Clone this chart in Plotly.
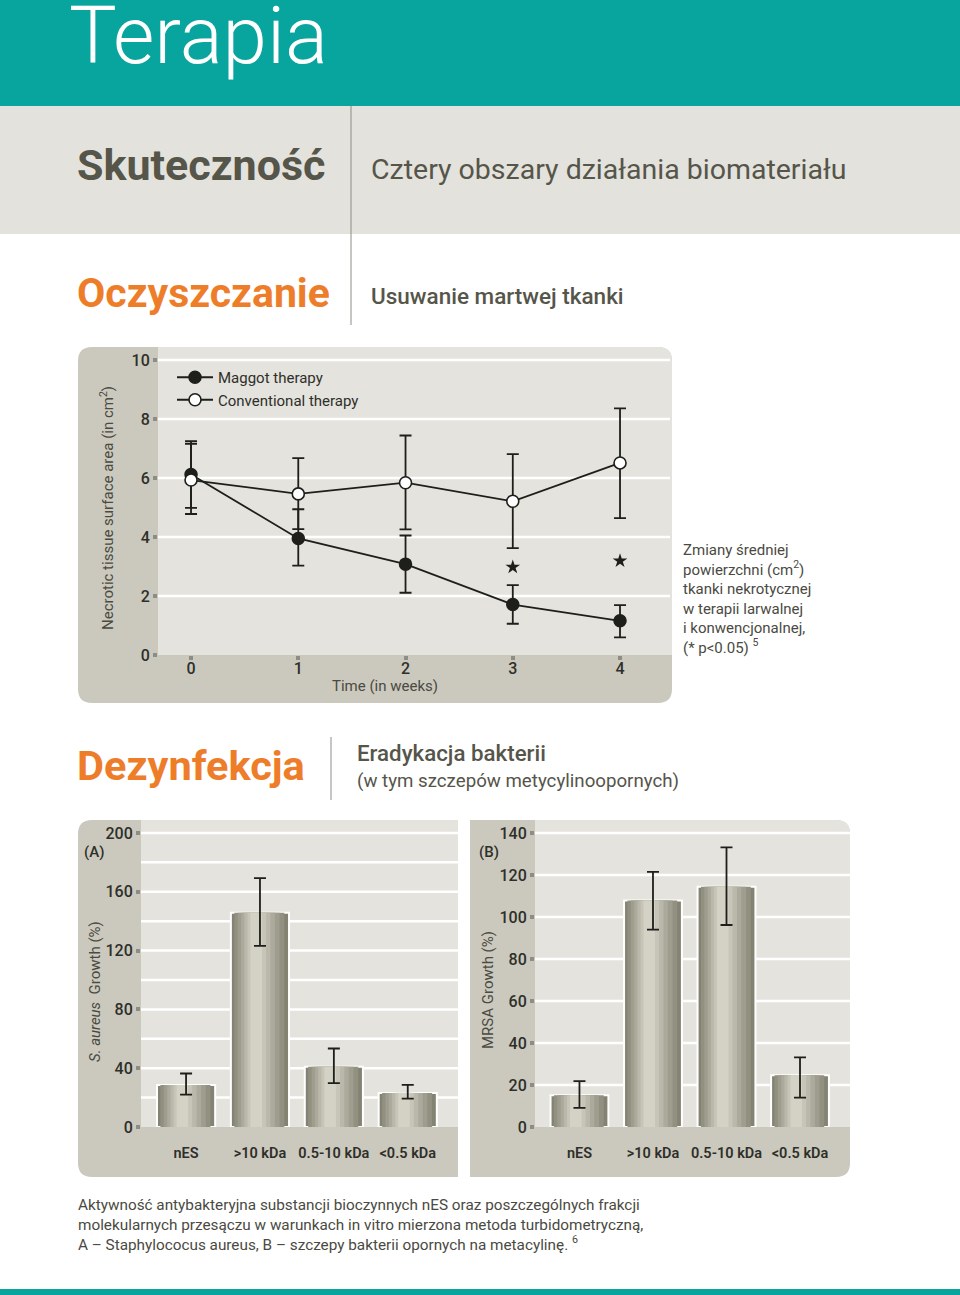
import plotly.graph_objects as go

# ---------------- data ----------------
weeks = [0, 1, 2, 3, 4]
maggot = [6.12, 3.95, 3.08, 1.71, 1.16]
maggot_hi = [7.25, 4.94, 4.05, 2.37, 1.69]
maggot_lo = [4.99, 3.03, 2.11, 1.06, 0.60]
conv = [5.93, 5.46, 5.84, 5.21, 6.51]
conv_hi = [7.16, 6.67, 7.44, 6.81, 8.36]
conv_lo = [4.78, 4.27, 4.26, 3.62, 4.64]
star_weeks = [3, 4]
star_vals = [2.98, 3.19]
line_yticks = [0, 2, 4, 6, 8, 10]

cats = ["nES", ">10 kDa", "0.5-10 kDa", "<0.5 kDa"]
cat_labels = ["nES", "&gt;10 kDa", "0.5-10 kDa", "&lt;0.5 kDa"]
a_vals = [28.6, 145.7, 40.9, 23.2]
a_hi = [36.4, 169.3, 53.4, 28.6]
a_lo = [22.0, 123.2, 29.8, 19.3]
b_vals = [15.1, 107.9, 114.4, 24.7]
b_hi = [21.8, 121.5, 133.2, 33.2]
b_lo = [9.1, 94.0, 96.2, 14.0]
a_yticks = [0, 40, 80, 120, 160, 200]
a_grid = [20, 40, 60, 80, 100, 120, 140, 160, 180, 200]
b_yticks = [0, 20, 40, 60, 80, 100, 120, 140]
b_grid = [20, 40, 60, 80, 100, 120, 140]

# ---------------- styling ----------------
W, H = 960, 1295          # reference frame (pixels)
FIG_H = 1305              # rendered figure height (viewport is captured slightly taller)
FONT = "Roboto"
TEAL = "#07a59e"
BAND = "#e3e2dc"
DARKTXT = "#56554a"
ORANGE = "#ee7d2a"
PANEL = "#cbc9bd"
LIGHT = "#e4e3dd"
INK = "#1e1e1b"
TICKTXT = "#2f2f2a"
DOT = "#8e8d84"
SUBTXT = "#4a4a42"


def px(x):
    return x / W


def py(y):
    return 1 - y / H


def rrect(x0, y0, x1, y1, tl=0, tr=0, br=0, bl=0):
    def P(x, y):
        return f"{px(x):.5f},{py(y):.5f}"
    d = f"M{P(x0 + tl, y0)} L{P(x1 - tr, y0)} "
    d += f"Q{P(x1, y0)} {P(x1, y0 + tr)} " if tr else ""
    d += f"L{P(x1, y1 - br)} "
    d += f"Q{P(x1, y1)} {P(x1 - br, y1)} " if br else ""
    d += f"L{P(x0 + bl, y1)} "
    d += f"Q{P(x0, y1)} {P(x0, y1 - bl)} " if bl else ""
    d += f"L{P(x0, y0 + tl)} "
    d += f"Q{P(x0, y0)} {P(x0 + tl, y0)} " if tl else ""
    return d + "Z"


shapes = []


def add_rect(x0, y0, x1, y1, color):
    shapes.append(dict(type="rect", xref="paper", yref="paper",
                       x0=px(x0), x1=px(x1), y0=py(y1), y1=py(y0),
                       fillcolor=color, line=dict(width=0), layer="below"))


def add_path(d, color):
    shapes.append(dict(type="path", xref="paper", yref="paper", path=d,
                       fillcolor=color, line=dict(width=0), layer="below"))


def add_vline(x, y0, y1, color="#8d8c84", width=1):
    shapes.append(dict(type="line", xref="paper", yref="paper",
                       x0=px(x), x1=px(x), y0=py(y0), y1=py(y1),
                       line=dict(color=color, width=width), layer="below"))


add_rect(0, 0, W, 106, TEAL)
add_rect(0, 106, W, 234, BAND)
add_vline(351, 106, 325)
add_vline(331, 737, 800)
add_rect(0, 1289, W, 1295, TEAL)

# line chart panel
add_path(rrect(78, 347, 672, 703, 14, 14, 14, 14), PANEL)
add_path(rrect(158, 347, 672, 655, 0, 14, 0, 0), LIGHT)
# bar panels
add_path(rrect(78, 820, 458, 1177, 14, 0, 0, 14), PANEL)
add_path(rrect(141, 820, 458, 1127, 0, 0, 0, 0), LIGHT)
add_path(rrect(470, 820, 850, 1177, 0, 14, 14, 0), PANEL)
add_path(rrect(535, 820, 850, 1127, 0, 14, 0, 0), LIGHT)

# gridlines
for v in line_yticks[1:]:
    shapes.append(dict(type="line", xref="x domain", yref="y", x0=0, x1=1, y0=v, y1=v,
                       line=dict(color="white", width=2.5), layer="below"))
for v in a_grid:
    shapes.append(dict(type="line", xref="x2 domain", yref="y2", x0=0, x1=1, y0=v, y1=v,
                       line=dict(color="white", width=2.5), layer="below"))
for v in b_grid:
    shapes.append(dict(type="line", xref="x3 domain", yref="y3", x0=0, x1=1, y0=v, y1=v,
                       line=dict(color="white", width=2.5), layer="below"))

fig = go.Figure()

# ---------------- line chart ----------------
fig.add_trace(go.Scatter(
    x=weeks, y=maggot, name="Maggot therapy", mode="lines+markers",
    line=dict(color=INK, width=1.8),
    marker=dict(size=12, color=INK, line=dict(color=INK, width=1.5)),
    error_y=dict(type="data", symmetric=False,
                 array=[h - v for h, v in zip(maggot_hi, maggot)],
                 arrayminus=[v - l for l, v in zip(maggot_lo, maggot)],
                 color=INK, thickness=1.8, width=6),
    xaxis="x", yaxis="y"))
fig.add_trace(go.Scatter(
    x=weeks, y=conv, name="Conventional therapy", mode="lines+markers",
    line=dict(color=INK, width=1.8),
    marker=dict(size=12, color="white", line=dict(color=INK, width=1.6)),
    error_y=dict(type="data", symmetric=False,
                 array=[h - v for h, v in zip(conv_hi, conv)],
                 arrayminus=[v - l for l, v in zip(conv_lo, conv)],
                 color=INK, thickness=1.8, width=6),
    xaxis="x", yaxis="y"))
fig.add_trace(go.Scatter(
    x=star_weeks, y=star_vals, mode="markers", showlegend=False,
    marker=dict(symbol="star", size=11, color=INK),
    xaxis="x", yaxis="y"))

# ---------------- bar charts (layered for cylinder shading) ----------------
BW = 0.787
dark = (0x84, 0x83, 0x73)
light = (0xd3, 0xd2, 0xc5)
fracs = [1.0, 0.86, 0.72, 0.58, 0.45, 0.32, 0.2]


def mix(t):
    return "rgb(%d,%d,%d)" % tuple(round(d + (l - d) * t) for d, l in zip(dark, light))


for vals, hi, lo, xa, ya in [(a_vals, a_hi, a_lo, "x2", "y2"), (b_vals, b_hi, b_lo, "x3", "y3")]:
    n = len(fracs)
    for i, f in enumerate(fracs):
        w = BW * f
        off = -BW / 2 + (BW - w) * 0.42
        fig.add_trace(go.Bar(
            x=cats, y=vals, width=w, offset=off, showlegend=False,
            marker=dict(color=mix(i / (n - 1)),
                        line=dict(color="white", width=2 if i == 0 else 0)),
            xaxis=xa, yaxis=ya, hoverinfo="skip"))
    fig.add_trace(go.Scatter(
        x=cats, y=vals, mode="markers", showlegend=False,
        marker=dict(size=1, color="rgba(0,0,0,0)"),
        error_y=dict(type="data", symmetric=False,
                     array=[h - v for h, v in zip(hi, vals)],
                     arrayminus=[v - l for l, v in zip(lo, vals)],
                     color=INK, thickness=1.8, width=6),
        xaxis=xa, yaxis=ya))

tickfont = dict(family=FONT, size=16, color=TICKTXT, weight=500)
cattickfont = dict(family=FONT, size=14.5, color=TICKTXT, weight=600)

axis_common = dict(showline=False, zeroline=False, showgrid=False,
                   ticks="outside", ticklen=4, tickwidth=4, tickcolor=DOT,
                   tickfont=tickfont, fixedrange=True)
cat_common = dict(showline=False, zeroline=False, showgrid=False, ticks="",
                  tickfont=cattickfont, fixedrange=True, ticklabelstandoff=15,
                  type="category", categoryorder="array", categoryarray=cats,
                  tickvals=cats, ticktext=cat_labels)

fig.update_layout(
    width=W, height=FIG_H, margin=dict(l=0, r=0, t=0, b=0),
    paper_bgcolor="white", plot_bgcolor="rgba(0,0,0,0)",
    barmode="overlay", shapes=shapes,
    font=dict(family=FONT, color=DARKTXT),
    xaxis=dict(domain=[px(158), px(670)], range=[-0.308, 4.466],
               tickvals=weeks, anchor="y", ticklabelstandoff=-5, **axis_common),
    yaxis=dict(domain=[py(655), py(347)], range=[0, 10.44],
               tickvals=line_yticks, anchor="x", **axis_common),
    xaxis2=dict(domain=[px(141), px(458)], range=[-0.61, 3.68], anchor="y2", **cat_common),
    yaxis2=dict(domain=[py(1127), py(820)], range=[0, 208.8],
                tickvals=a_yticks, anchor="x2", **axis_common),
    xaxis3=dict(domain=[px(535), px(850)], range=[-0.605, 3.68], anchor="y3", **cat_common),
    yaxis3=dict(domain=[py(1127), py(820)], range=[0, 146.2],
                tickvals=b_yticks, anchor="x3", **axis_common),
    legend=dict(x=px(172), y=py(361), xanchor="left", yanchor="top",
                bgcolor="rgba(0,0,0,0)", font=dict(family=FONT, size=15, color=TICKTXT),
                itemwidth=36, tracegroupgap=0),
)

annotations = []


def txt(x, y, text, size, color=DARKTXT, weight=400, xanchor="left", yanchor="middle",
        angle=0, align="left"):
    annotations.append(dict(x=px(x), y=py(y), xref="paper", yref="paper", text=text,
                            showarrow=False, xanchor=xanchor, yanchor=yanchor,
                            textangle=angle, align=align,
                            font=dict(family=FONT, size=size, color=color, weight=weight)))


txt(67, 36, "Terapia", 80, color="white", weight=300)
txt(75, 165, "Skuteczność", 43, weight=700)
txt(369, 170, "Cztery obszary działania biomateriału", 28.5)
txt(75, 293, "Oczyszczanie", 41, color=ORANGE, weight=700)
txt(369, 296, "Usuwanie martwej tkanki", 22.5, weight=500)
txt(75, 765, "Dezynfekcja", 41.5, color=ORANGE, weight=700)
txt(355, 753, "Eradykacja bakterii", 22.3, weight=500)
txt(355, 781, "(w tym szczepów metycylinoopornych)", 18.7)

txt(107, 508, "Necrotic tissue surface area (in cm<sup>2</sup>)", 15, color=SUBTXT,
    xanchor="center", angle=-90)
txt(385, 686, "Time (in weeks)", 15, color=SUBTXT, xanchor="center")
txt(681, 599, "Zmiany średniej<br>powierzchni (cm<sup>2</sup>)<br>tkanki nekrotycznej<br>"
    "w terapii larwalnej<br>i konwencjonalnej,<br>(* p&lt;0.05) <sup>5</sup>", 15, color=SUBTXT)

txt(82, 852, "(A)", 15, color=TICKTXT, weight=500)
txt(477, 852, "(B)", 15, color=TICKTXT, weight=500)
txt(95, 992, "<i>S. aureus</i>  Growth (%)", 15, color=SUBTXT, xanchor="center", angle=-90)
txt(488, 990, "MRSA Growth (%)", 15, color=SUBTXT, xanchor="center", angle=-90)

txt(76, 1225, "Aktywność antybakteryjna substancji bioczynnych nES oraz poszczególnych frakcji<br>"
    "molekularnych przesączu w warunkach in vitro mierzona metoda turbidometryczną,<br>"
    "A – Staphylococus aureus, B – szczepy bakterii opornych na metacylinę. <sup>6</sup>",
    15.3, color=SUBTXT)

fig.update_layout(annotations=annotations)
fig.write_html("out.html", config={"displayModeBar": False},
               post_script="document.body.style.margin='0';document.body.style.padding='0';"
                           "document.documentElement.style.overflow='hidden';")
